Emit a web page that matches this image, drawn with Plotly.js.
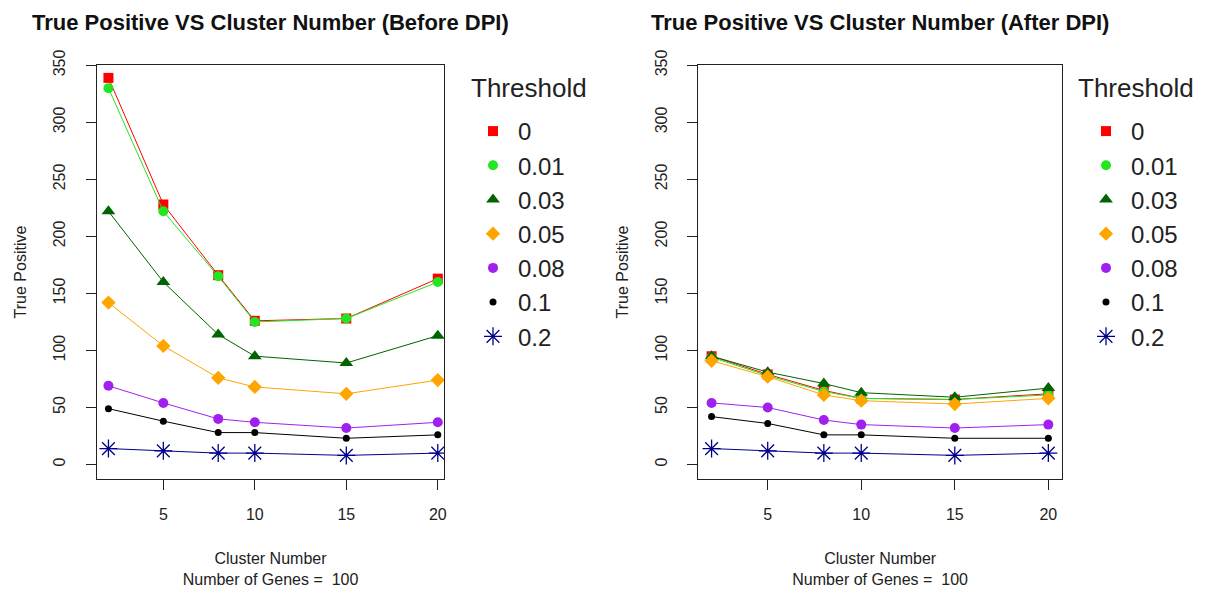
<!DOCTYPE html>
<html>
<head>
<meta charset="utf-8">
<script src="https://cdn.plot.ly/plotly-3.0.1.min.js"></script>
<style>
  html, body { margin: 0; padding: 0; background: #ffffff; }
  #chart { width: 1205px; height: 593px; }
</style>
</head>
<body>
<div id="chart"></div>
<script>
// Cluster numbers on the x axis
const clusters = [2, 5, 8, 10, 15, 20];

// Threshold labels (legend entries)
const thresholds = ["0", "0.01", "0.03", "0.05", "0.08", "0.1", "0.2"];

// True positives before DPI, one array per threshold
const before_t0   = [339, 228, 166, 126, 128, 163];
const before_t001 = [330, 222, 165, 125, 128, 160];
const before_t003 = [222, 160, 114, 95, 89, 113];
const before_t005 = [142, 104, 76, 68, 62, 74];
const before_t008 = [69, 54, 40, 37, 32, 37];
const before_t01  = [49, 38, 28, 28, 23, 26];
const before_t02  = [14, 12, 10, 10, 8, 10];

// True positives after DPI, one array per threshold
const after_t0   = [95, 79, 65, 58, 57, 62];
const after_t001 = [94, 78, 64, 58, 57, 61];
const after_t003 = [95, 81, 71, 63, 59, 67];
const after_t005 = [91, 77, 61, 56, 53, 58];
const after_t008 = [54, 50, 39, 35, 32, 35];
const after_t01  = [42, 36, 26, 26, 23, 23];
const after_t02  = [14, 12, 10, 10, 8, 10];

const beforeSeries = [before_t0, before_t001, before_t003, before_t005, before_t008, before_t01, before_t02];
const afterSeries  = [after_t0, after_t001, after_t003, after_t005, after_t008, after_t01, after_t02];

// Point style per threshold
const styles = [
  { color: "#FF0000", symbol: "square",        size: 10 },
  { color: "#22E622", symbol: "circle",        size: 10 },
  { color: "#006400", symbol: "triangle-up",   size: 12 },
  { color: "#FFA500", symbol: "diamond",       size: 11 },
  { color: "#A020F0", symbol: "circle",        size: 10 },
  { color: "#000000", symbol: "circle",        size: 7 },
  { color: "#00008B", symbol: "asterisk-open", size: 15 }
];

function buildTraces(seriesList, xa, ya, legendName, prefix) {
  const out = [];
  seriesList.forEach((vals, i) => {
    const st = styles[i];
    // connecting line
    out.push({
      type: "scatter", mode: "lines", x: clusters, y: vals,
      xaxis: xa, yaxis: ya, legend: legendName,
      legendgroup: prefix + i, showlegend: false, hoverinfo: "skip",
      line: { color: st.color, width: 1 }
    });
    // points
    out.push({
      type: "scatter", mode: "markers", x: clusters, y: vals,
      xaxis: xa, yaxis: ya, legend: legendName,
      legendgroup: prefix + i, name: thresholds[i],
      marker: {
        symbol: st.symbol, size: st.size, color: st.color,
        line: { color: st.color, width: st.symbol === "asterisk-open" ? 1.3 : 0 }
      }
    });
  });
  return out;
}

const data = [].concat(
  buildTraces(beforeSeries, "x", "y", "legend", "b"),
  buildTraces(afterSeries, "x2", "y2", "legend2", "a")
);

const W = 1205, H = 593;
const FAMILY = "Liberation Sans, Arial, sans-serif";
const yDomain = [1 - 479 / H, 1 - 65 / H];
const yTicks = [0, 50, 100, 150, 200, 250, 300, 350];
const axisFont = { family: FAMILY, size: 16, color: "#222222" };

function xAxis(domain, range, anchor) {
  return {
    domain: domain, range: range, anchor: anchor,
    tickmode: "array", tickvals: [5, 10, 15, 20],
    ticks: "outside", ticklen: 10, tickwidth: 1, tickcolor: "#222222",
    showline: true, mirror: true, linecolor: "#222222", linewidth: 1.2,
    showgrid: false, zeroline: false,
    tickfont: axisFont, ticklabelstandoff: 11,
    title: { text: "Cluster Number<br>Number of Genes = \u00a0100", font: axisFont, standoff: 30 }
  };
}
function yAxis(range, anchor) {
  return {
    domain: yDomain, range: range, anchor: anchor,
    tickmode: "array", tickvals: yTicks, tickangle: -90,
    ticks: "outside", ticklen: 10, tickwidth: 1, tickcolor: "#222222",
    showline: true, mirror: true, linecolor: "#222222", linewidth: 1.2,
    showgrid: false, zeroline: false,
    tickfont: axisFont, ticklabelstandoff: 14,
    title: { text: "True Positive", font: axisFont, standoff: 20 }
  };
}

function legendBox(xPx) {
  return {
    x: xPx / W, xanchor: "left", y: 1 - 109 / H, yanchor: "top",
    bgcolor: "rgba(0,0,0,0)", borderwidth: 0,
    font: { family: FAMILY, size: 24, color: "#222222" },
    itemwidth: 40,
    tracegroupgap: 0, itemclick: false, itemdoubleclick: false
  };
}

const titleFont = { family: FAMILY, size: 22, color: "#111111", weight: "bold" };
const legendTitleFont = { family: FAMILY, size: 26, color: "#222222" };

const layout = {
  width: W, height: H,
  margin: { l: 0, r: 0, t: 0, b: 0 },
  paper_bgcolor: "#ffffff", plot_bgcolor: "#ffffff",
  font: axisFont,
  showlegend: true,
  xaxis: xAxis([97 / W, 444 / W], [1.375, 20.34], "y"),
  yaxis: yAxis([-12.7, 350.3], "x"),
  xaxis2: xAxis([698.3 / W, 1062 / W], [1.29, 20.73], "y2"),
  yaxis2: yAxis([-12.7, 350.3], "x2"),
  legend: legendBox(468),
  legend2: legendBox(1081),
  annotations: [
    { text: "True Positive VS Cluster Number (Before DPI)", xref: "paper", yref: "paper",
      x: 270 / W, y: 1 - 22 / H, xanchor: "center", yanchor: "middle", showarrow: false, font: titleFont },
    { text: "True Positive VS Cluster Number (After DPI)", xref: "paper", yref: "paper",
      x: 880 / W, y: 1 - 22 / H, xanchor: "center", yanchor: "middle", showarrow: false, font: titleFont },
    { text: "Threshold", xref: "paper", yref: "paper",
      x: 469 / W, y: 1 - 88 / H, xanchor: "left", yanchor: "middle", showarrow: false, font: legendTitleFont },
    { text: "Threshold", xref: "paper", yref: "paper",
      x: 1076 / W, y: 1 - 88 / H, xanchor: "left", yanchor: "middle", showarrow: false, font: legendTitleFont }
  ]
};

Plotly.newPlot("chart", data, layout, { staticPlot: true, displayModeBar: false });
</script>
</body>
</html>
